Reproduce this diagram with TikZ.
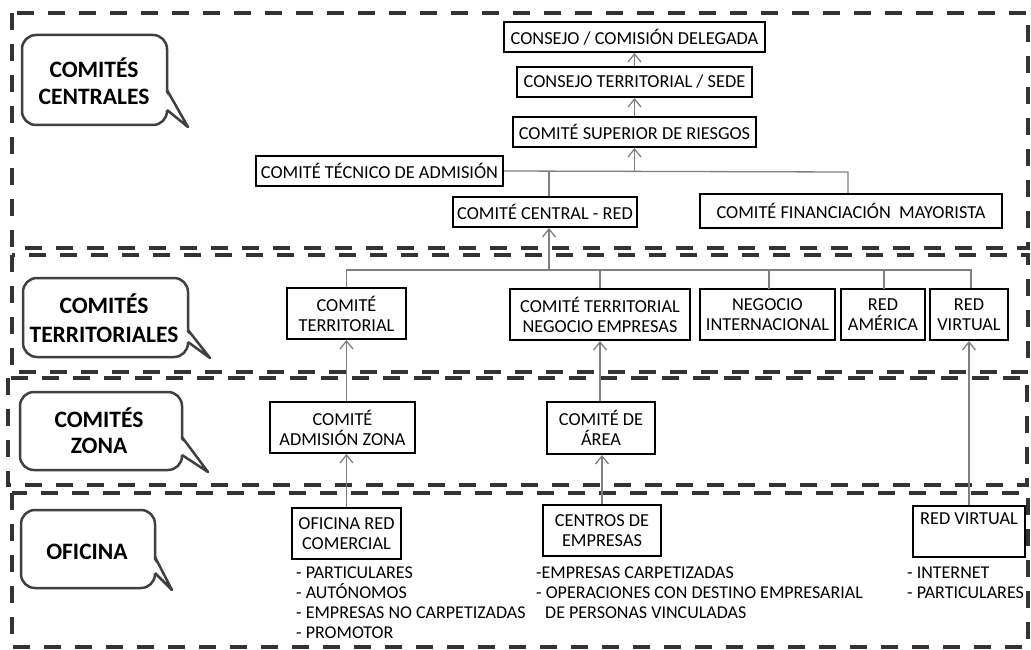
\documentclass[tikz,border=0pt]{standalone}
\usepackage{fontspec}
\setmainfont{Carlito}
\usetikzlibrary{arrows.meta}
\newcommand\speechbub[7]{%
  \draw[bub, rounded corners=14pt] (#1,#2) rectangle (#3,#4);
  \fill[white] (#3-1.7,#5+1.5) -- (#6,#7) -- (#3-1.7,#4-16) -- cycle;
  \draw[bubline] (#3,#5) -- (#6,#7) -- (#3,#4-15);
}
\begin{document}
\begin{tikzpicture}[x=1pt,y=-1pt,
  frame/.style={draw=black!80, line width=3.5pt, dash pattern=on 17pt off 14pt},
  bub/.style={draw=black!75, line width=2.5pt, fill=white},
  bubline/.style={draw=black!75, line width=2.5pt, line join=round},
  btext/.style={align=center, inner sep=0pt},
  box/.style={draw=black, line width=2pt, fill=white, font=\fontsize{18.3}{20}\selectfont, align=center, inner sep=0pt},
  conn/.style={draw=black!50, line width=1.3pt},
  arr/.style={conn, -{Straight Barb[length=8pt,width=13pt]}},
  list/.style={font=\fontsize{18}{20}\selectfont, align=left, inner sep=0pt, anchor=north west}
]
\useasboundingbox (0,0) rectangle (1031,650);
\fill[white] (0,0) rectangle (1031,650);

% frames
\draw[frame] (12,13) rectangle (1028,248);
\draw[frame] (12,255) rectangle (1028,372);
\draw[frame] (8,378) rectangle (1027,485);
\draw[frame] (12,493) rectangle (1028,647);

% bubbles
\speechbub{22}{35}{167}{125}{90}{188}{127}
\node[btext, font=\fontsize{23.5}{27}\selectfont\bfseries] (bcen) at (94,81) {COMITÉS\\CENTRALES};
\speechbub{23}{278}{188}{357}{330}{210}{358}
\node[btext, font=\fontsize{23.5}{29}\selectfont\bfseries] (bter) at (104,318) {COMITÉS\\TERRITORIALES};
\speechbub{20}{392}{182}{470}{437}{208}{472}
\node[btext, font=\fontsize{23.5}{26}\selectfont\bfseries] (bzon) at (99,430.5) {COMITÉS\\ZONA};
\speechbub{21}{510}{155}{588}{557}{172}{590}
\node[btext, font=\fontsize{23.5}{26}\selectfont\bfseries] (bofi) at (87,552) {OFICINA};

% central boxes
\node[box, minimum width=261pt, minimum height=30pt] (consejo) at (634.5,37) {CONSEJO / COMISIÓN DELEGADA};
\node[box, minimum width=235pt, minimum height=30pt] (sede) at (634.5,82) {CONSEJO TERRITORIAL / SEDE};
\node[box, minimum width=243pt, minimum height=30pt] (superior) at (634.5,132) {COMITÉ SUPERIOR DE RIESGOS};
\node[box, minimum width=247pt, minimum height=30pt] (tecnico) at (379.5,171) {COMITÉ TÉCNICO DE ADMISIÓN};
\node[box, minimum width=184pt, minimum height=30pt] (central) at (545,212) {COMITÉ CENTRAL - RED};
\node[box, minimum width=302pt, minimum height=34pt] (financ) at (851,211) {COMITÉ FINANCIACIÓN\ \ MAYORISTA};

% territorial boxes
\node[box, minimum width=119pt, minimum height=51pt] (ct) at (346.5,313.5) {COMITÉ\\TERRITORIAL};
\node[box, minimum width=180pt, minimum height=51pt] (ctne) at (600,314.5) {COMITÉ TERRITORIAL\\NEGOCIO EMPRESAS};
\node[box, minimum width=135pt, minimum height=51pt] (ni) at (767.5,314.5) {NEGOCIO\\INTERNACIONAL};
\node[box, minimum width=84pt, minimum height=51pt] (ra) at (883,314.5) {RED\\AMÉRICA};
\node[box, minimum width=78pt, minimum height=51pt] (rv) at (969,314.5) {RED\\VIRTUAL};

% zona boxes
\node[box, minimum width=145pt, minimum height=51pt] (caz) at (342.5,427.5) {COMITÉ\\ADMISIÓN ZONA};
\node[box, minimum width=108pt, minimum height=52pt] (area) at (601,428) {COMITÉ DE\\ÁREA};

% oficina boxes
\node[box, minimum width=109pt, minimum height=51pt] (orc) at (346.5,533.5) {OFICINA RED\\COMERCIAL};
\node[box, minimum width=118pt, minimum height=51pt] (ce) at (602,530.5) {CENTROS DE\\EMPRESAS};
\node[box, minimum width=112pt, minimum height=51pt] (rvo) at (969,531.5) {RED VIRTUAL\\\strut};

% lists
\node[list] (l1) at (296,567) {- PARTICULARES\\- AUTÓNOMOS\\- EMPRESAS NO CARPETIZADAS\\- PROMOTOR};
\node[list] (l2) at (536,567) {-EMPRESAS CARPETIZADAS\\- OPERACIONES CON DESTINO EMPRESARIAL\\\hspace*{9pt}DE PERSONAS VINCULADAS};
\node[list] (l3) at (907,567) {- INTERNET\\- PARTICULARES};

% connectors central
\coordinate (jsup) at (634.5,172);
\coordinate (jcen) at (549,172);
\coordinate (jfin) at (848,172);
\draw[arr] (superior.north) -- (sede.south);
\draw[arr] (sede.north) -- (consejo.south);
\draw[conn] (tecnico.east) -- (jfin) -- (jfin |- financ.north);
\draw[arr] (jsup) -- (superior.south);
\draw[conn] (jcen) -- (jcen |- central.north);

% connectors territorial
\coordinate (jter) at (549,270);
\coordinate (jtl) at (346.5,270);
\coordinate (jtr) at (971,270);
\draw[arr] (jter) -- (jter |- central.south);
\draw[conn] (jtl |- ct.north) -- (jtl) -- (jtr) -- (jtr |- rv.north);
\draw[conn] (600,270) -- (ctne.north);
\draw[conn] (769,270) -- (769,289);
\draw[conn] (884,270) -- (884,289);

% vertical links
\draw[arr] (ct.south |- caz.north) -- (ct.south);
\draw[arr] (orc.north) -- (orc.north |- caz.south);
\draw[arr] (area.north -| ctne.south) -- (ctne.south);
\draw[arr] (ce.north) -- (ce.north |- area.south);
\draw[arr] (rvo.north) -- (rvo.north |- rv.south);
\end{tikzpicture}
\end{document}
